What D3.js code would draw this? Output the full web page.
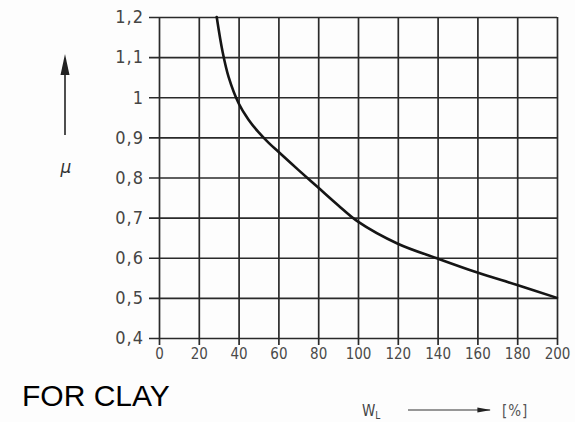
<!DOCTYPE html>
<html>
<head>
<meta charset="utf-8">
<script src="https://cdn.jsdelivr.net/npm/d3@7"></script>
<style>
  html, body { margin: 0; padding: 0; background: #fdfdfd; }
  svg { display: block; }
</style>
</head>
<body>
<svg id="chart" width="575" height="422"></svg>
<script>
// Liquid limit w_L [%] and the correction factor mu
const liquidLimit = [29, 32, 35, 40, 45, 50, 55, 60, 70, 80, 90, 100, 120, 140, 160, 180, 200];
const muValues    = [1.2, 1.112, 1.05, 0.985, 0.944, 0.913, 0.887, 0.864, 0.819, 0.775, 0.731, 0.69, 0.635, 0.598, 0.563, 0.532, 0.50];

const xTicks = [0, 20, 40, 60, 80, 100, 120, 140, 160, 180, 200];
const xTickLabels = ["0", "20", "40", "60", "80", "100", "120", "140", "160", "180", "200"];
const yTicks = [0.4, 0.5, 0.6, 0.7, 0.8, 0.9, 1.0, 1.1, 1.2];
const yTickLabels = ["0,4", "0,5", "0,6", "0,7", "0,8", "0,9", "1", "1,1", "1,2"];

const svg = d3.select("#chart");
const plotLeft = 159, plotRight = 557, plotTop = 17, plotBottom = 338;

const x = d3.scaleLinear().domain([0, 200]).range([plotLeft, plotRight]);
const y = d3.scaleLinear().domain([0.4, 1.2]).range([plotBottom, plotTop]);

const gridColor = "#2a2a2a";
const labelFont = "'DejaVu Sans Condensed', 'DejaVu Sans', sans-serif";

// Vertical grid lines + x tick labels
const xAxis = svg.append("g")
  .attr("transform", `translate(0,${plotBottom})`)
  .call(d3.axisBottom(x)
    .tickValues(xTicks)
    .tickSizeInner(-(plotBottom - plotTop))
    .tickSizeOuter(0)
    .tickPadding(10)
    .tickFormat((d, i) => xTickLabels[i]));
xAxis.select(".domain").remove();
xAxis.selectAll(".tick line")
  .attr("y1", 7)
  .attr("stroke", gridColor)
  .attr("stroke-width", 1.7);
xAxis.selectAll(".tick text")
  .attr("fill", "#4a4a4a")
  .style("font-family", labelFont)
  .style("font-size", "15px");

// Horizontal grid lines + y tick labels
const yAxis = svg.append("g")
  .attr("transform", `translate(${plotLeft},0)`)
  .call(d3.axisLeft(y)
    .tickValues(yTicks)
    .tickSizeInner(-(plotRight - plotLeft))
    .tickSizeOuter(0)
    .tickPadding(15)
    .tickFormat((d, i) => yTickLabels[i]));
yAxis.select(".domain").remove();
yAxis.selectAll(".tick line")
  .attr("x1", -10)
  .attr("stroke", gridColor)
  .attr("stroke-width", 1.7);
yAxis.selectAll(".tick text")
  .attr("fill", "#454545")
  .style("font-family", labelFont)
  .style("font-size", "18px")
  .style("letter-spacing", "1px");

// The curve
const line = d3.line()
  .x((d, i) => x(liquidLimit[i]))
  .y(d => y(d))
  .curve(d3.curveCatmullRom.alpha(0.5));
svg.append("path")
  .datum(muValues)
  .attr("d", line)
  .attr("fill", "none")
  .attr("stroke", "#151515")
  .attr("stroke-width", 2.6)
  .attr("stroke-linecap", "round");

// Arrow marker for the w_L title
const defs = svg.append("defs");
defs.append("marker")
  .attr("id", "arrowHead")
  .attr("viewBox", "0 0 10 10")
  .attr("refX", 9).attr("refY", 5)
  .attr("markerWidth", 14).attr("markerHeight", 8)
  .attr("markerUnits", "userSpaceOnUse")
  .attr("orient", "auto")
  .attr("preserveAspectRatio", "none")
  .append("path")
  .attr("d", "M0,2 L10,5 L0,8 Z")
  .attr("fill", "#222");

// mu axis title with upward arrow
svg.append("line")
  .attr("x1", 65).attr("y1", 135)
  .attr("x2", 65).attr("y2", 60)
  .attr("stroke", "#222").attr("stroke-width", 1.6);
svg.append("path")
  .attr("d", "M65,54 L60.5,75 L69.5,75 Z")
  .attr("fill", "#222");
svg.append("text")
  .attr("x", 66).attr("y", 173)
  .attr("text-anchor", "middle")
  .attr("fill", "#333")
  .style("font-family", "'DejaVu Sans', sans-serif")
  .style("font-style", "italic")
  .style("font-size", "17px")
  .text("μ");

// w_L axis title with rightward arrow
const wl = svg.append("text")
  .attr("x", 362).attr("y", 416)
  .attr("fill", "#444")
  .style("font-family", labelFont)
  .style("font-size", "15px");
wl.append("tspan").text("W");
wl.append("tspan").attr("dy", 3).style("font-size", "10px").text("L");
svg.append("line")
  .attr("x1", 408).attr("y1", 410)
  .attr("x2", 490).attr("y2", 410)
  .attr("stroke", "#333").attr("stroke-width", 1.2)
  .attr("marker-end", "url(#arrowHead)");
svg.append("text")
  .attr("x", 502).attr("y", 416)
  .attr("fill", "#555")
  .style("font-family", labelFont)
  .style("font-size", "15px")
  .style("letter-spacing", "1px")
  .text("[%]");

// Caption
svg.append("text")
  .attr("x", 22).attr("y", 406)
  .attr("fill", "#000")
  .style("font-family", "'Liberation Sans', Arial, sans-serif")
  .style("font-size", "30px")
  .text("FOR CLAY");
</script>
</body>
</html>
